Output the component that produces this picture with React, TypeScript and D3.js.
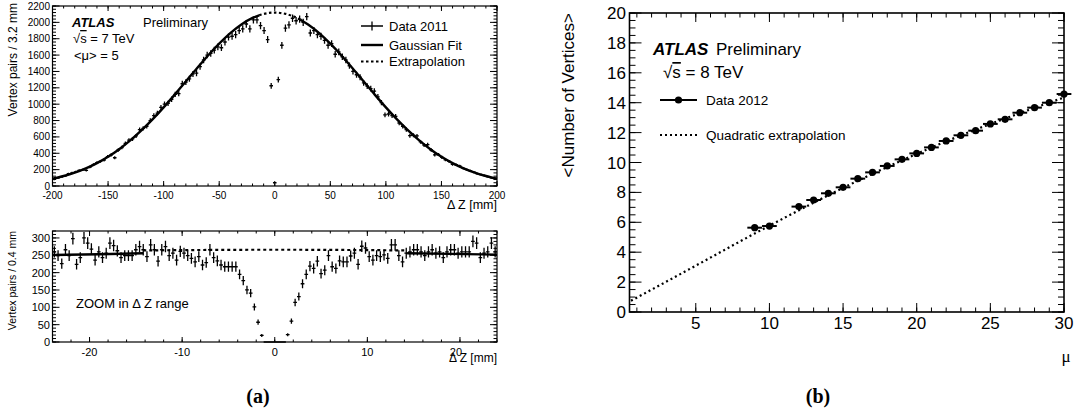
import React from 'react';
import * as d3 from 'd3';

// ---------- Panel (a), top: ΔZ of vertex pairs, 3.2 mm bins from -200 to 200 mm
const topBinLow = -200;
const topBinWidth = 3.2;
const topCounts = [
  80, 98, 110, 122, 150, 160, 172, 190, 196, 190,
  232, 262, 285, 300, 318, 360, 380, 345, 440, 470,
  520, 560, 575, 612, 690, 705, 730, 800, 860, 890,
  960, 1000, 1010, 1060, 1120, 1130, 1250, 1270, 1310, 1370,
  1380, 1460, 1540, 1600, 1620, 1660, 1700, 1690, 1760, 1820,
  1830, 1850, 1900, 1920, 1980, 1920, 2030, 2030, 1960, 1900,
  1790, 1225, 40, 1300, 1720, 1930, 1970, 2050, 2020, 2040,
  2000, 2070, 1870, 1900, 1850, 1830, 1780, 1720, 1740, 1610,
  1640, 1580, 1540, 1470, 1400, 1360, 1330, 1260, 1220, 1190,
  1160, 1090, 1020, 870, 880, 860, 850, 770, 730, 690,
  615, 620, 612, 540, 500, 505, 440, 380, 385, 350,
  320, 300, 265, 260, 245, 215, 200, 185, 168, 150,
  140, 128, 112, 100, 92,
];
const topFitX = [-200, -190, -180, -170, -160, -150, -140, -130, -120, -110, -100, -90, -80, -70, -60, -50, -40, -30, -20, -14, -10, 0, 10, 20, 23, 30, 40, 50, 60, 70, 80, 90, 100, 110, 120, 130, 140, 150, 160, 170, 180, 190, 200];
const topFitY = [89, 122, 163, 215, 280, 357, 450, 557, 679, 814, 961, 1117, 1278, 1439, 1595, 1739, 1868, 1974, 2054, 2087, 2103, 2120, 2103, 2054, 2033, 1974, 1868, 1739, 1595, 1439, 1278, 1117, 961, 814, 679, 557, 450, 357, 280, 215, 163, 122, 89];
const topFitLow = -14;
const topFitHigh = 23;
const topXTicks = [-200, -150, -100, -50, 0, 50, 100, 150, 200];
const topYTicks = [0, 200, 400, 600, 800, 1000, 1200, 1400, 1600, 1800, 2000, 2200];

// ---------- Panel (a), bottom: zoom, 0.4 mm bins from -24 to 24 mm
const zoomBinLow = -24;
const zoomBinWidth = 0.4;
const zoomCounts = [
  260, 249, 226, 266, 249, 298, 224, 243, 300, 285, 268, 236, 260, 243, 256, 285, 278, 263, 243, 249,
  249, 249, 266, 275, 266, 246, 280, 266, 233, 266, 275, 249, 256,
  236, 261, 256, 249, 241, 231, 246, 222, 229, 266, 243, 234, 222, 217, 217, 217, 217, 195, 177, 150, 141, 101, 57, 19,
  0, 0, 0, 0, 0, 0,
  21, 60, 114, 131, 168, 195, 219, 212, 233, 197, 207, 249, 217, 212, 234, 231, 231, 248, 256, 224, 276, 271, 246,
  236, 249, 246, 251, 241, 280, 280, 249, 231, 256, 260, 266, 266, 260, 249, 260, 266, 256, 260, 243,
  260, 266, 266, 256, 260, 260, 260, 290, 285, 243, 256, 260, 285, 260,
];
const zoomFitLeftX = [-24, -19, -14.2];
const zoomFitLeftY = [251, 253, 256];
const zoomFitRightX = [14.3, 19, 24];
const zoomFitRightY = [256, 254, 252];
const zoomExtrapX = [-14.2, 0, 14.3];
const zoomExtrapY = [264, 266, 264];
const zoomXTicks = [-20, -10, 0, 10, 20];
const zoomYTicks = [0, 50, 100, 150, 200, 250, 300];

// ---------- Panel (b): <Number of Vertices> vs mu
const muValues = [9, 10, 12, 13, 14, 15, 16, 17, 18, 19, 20, 21, 22, 23, 24, 25, 26, 27, 28, 29, 30];
const nVertices = [5.64, 5.75, 7.05, 7.49, 7.94, 8.34, 8.92, 9.34, 9.77, 10.21, 10.61, 11.01, 11.44, 11.82, 12.13, 12.58, 12.89, 13.33, 13.67, 14.0, 14.58];
const extrapMu = [0.6, 5, 9, 12, 15, 18, 21, 24, 27, 30];
const extrapNv = [0.75, 3.1, 5.25, 6.8, 8.3, 9.7, 11.0, 12.2, 13.3, 14.35];
const bXTicks = [5, 10, 15, 20, 25, 30];
const bYTicks = [0, 2, 4, 6, 8, 10, 12, 14, 16, 18, 20];

const SANS = '"Liberation Sans", Arial, Helvetica, sans-serif';
const SERIF = '"Liberation Serif", "DejaVu Serif", serif';

type FrameProps = {
  x: d3.ScaleLinear<number, number>;
  y: d3.ScaleLinear<number, number>;
  xMajor: number[];
  xMinor: number[];
  yMajor: number[];
  yMinor: number[];
  xMaj: number;
  xMin: number;
  yMaj: number;
  yMin: number;
  sw: number;
};

function Frame({ x, y, xMajor, xMinor, yMajor, yMinor, xMaj, xMin, yMaj, yMin, sw }: FrameProps) {
  const [x0, x1] = x.range();
  const [y0, y1] = y.range(); // y0 bottom, y1 top
  const segs: string[] = [];
  xMinor.forEach((v) => {
    const px = x(v);
    segs.push(`M${px},${y0}V${y0 - xMin}M${px},${y1}V${y1 + xMin}`);
  });
  xMajor.forEach((v) => {
    const px = x(v);
    segs.push(`M${px},${y0}V${y0 - xMaj}M${px},${y1}V${y1 + xMaj}`);
  });
  yMinor.forEach((v) => {
    const py = y(v);
    segs.push(`M${x0},${py}H${x0 + yMin}M${x1},${py}H${x1 - yMin}`);
  });
  yMajor.forEach((v) => {
    const py = y(v);
    segs.push(`M${x0},${py}H${x0 + yMaj}M${x1},${py}H${x1 - yMaj}`);
  });
  return (
    <g>
      <path d={segs.join('')} stroke="#000" strokeWidth={1} fill="none" />
      <rect x={x0} y={y1} width={x1 - x0} height={y0 - y1} fill="none" stroke="#000" strokeWidth={sw} />
    </g>
  );
}

function SqrtS({ x, y, size, rest }: { x: number; y: number; size: number; rest: string }) {
  return (
    <text x={x} y={y} fontFamily={SANS} fontSize={size}>
      <tspan>√</tspan>
      <tspan style={{ textDecoration: 'overline' }}>s</tspan>
      <tspan>{rest}</tspan>
    </text>
  );
}

export default function App() {
  // ---- scales
  const xA = d3.scaleLinear().domain([-200, 200]).range([52.5, 497]);
  const yA = d3.scaleLinear().domain([0, 2200]).range([186, 6]);
  const xZ = d3.scaleLinear().domain([-24, 24]).range([52.5, 497]);
  const yZ = d3.scaleLinear().domain([0, 320]).range([342, 231]);
  const xB = d3.scaleLinear().domain([0.5, 30]).range([629.5, 1064]);
  const yB = d3.scaleLinear().domain([0, 20]).range([312, 13]);

  const topFit = topFitX.map((v, i) => [v, topFitY[i]] as [number, number]);
  const lineA = d3
    .line<[number, number]>()
    .x((d) => xA(d[0]))
    .y((d) => yA(d[1]))
    .curve(d3.curveMonotoneX);
  const lineZ = d3
    .line<[number, number]>()
    .x((d) => xZ(d[0]))
    .y((d) => yZ(d[1]))
    .curve(d3.curveMonotoneX);
  const lineB = d3
    .line<[number, number]>()
    .x((d) => xB(d[0]))
    .y((d) => yB(d[1]))
    .curve(d3.curveMonotoneX);

  const topMarks = topCounts.map((v, i) => {
    const c = topBinLow + topBinWidth * (i + 0.5);
    const e = Math.sqrt(v);
    return `M${xA(c - topBinWidth / 2)},${yA(v)}H${xA(c + topBinWidth / 2)}M${xA(c)},${yA(v - e)}V${yA(v + e)}`;
  });
  const zoomMarks = zoomCounts.map((v, i) => {
    const c = zoomBinLow + zoomBinWidth * (i + 0.5);
    const e = Math.sqrt(v);
    return `M${xZ(c - zoomBinWidth / 2)},${yZ(v)}H${xZ(c + zoomBinWidth / 2)}M${xZ(c)},${yZ(v - e)}V${yZ(v + e)}`;
  });

  const zl = zoomFitLeftX.map((v, i) => [v, zoomFitLeftY[i]] as [number, number]);
  const zr = zoomFitRightX.map((v, i) => [v, zoomFitRightY[i]] as [number, number]);
  const ze = zoomExtrapX.map((v, i) => [v, zoomExtrapY[i]] as [number, number]);
  const be = extrapMu.map((v, i) => [v, extrapNv[i]] as [number, number]);

  return (
    <svg
      width={1078}
      height={414}
      viewBox="0 0 1078 414"
      style={{ position: 'absolute', left: 0, top: 0, background: '#fff' }}
    >
      <rect x={0} y={0} width={1078} height={414} fill="#fff" />

      {/* ================= Panel (a) top ================= */}
      <path d={lineA(topFit.filter((d) => d[0] >= topFitLow && d[0] <= topFitHigh)) || ''} fill="none" stroke="#000" strokeWidth={2.2} strokeDasharray="2.5,2.5" />
      <path d={lineA(topFit.filter((d) => d[0] <= topFitLow)) || ''} fill="none" stroke="#000" strokeWidth={2.4} />
      <path d={lineA(topFit.filter((d) => d[0] >= topFitHigh)) || ''} fill="none" stroke="#000" strokeWidth={2.4} />
      <path d={topMarks.join('')} stroke="#000" strokeWidth={1.3} fill="none" />
      <Frame
        x={xA}
        y={yA}
        xMajor={topXTicks}
        xMinor={d3.range(-200, 200.01, 10)}
        yMajor={topYTicks}
        yMinor={d3.range(0, 2200.01, 40)}
        xMaj={5}
        xMin={2.5}
        yMaj={7}
        yMin={3.5}
        sw={1.2}
      />
      {topXTicks.map((t) => (
        <text key={t} x={xA(t)} y={199} fontFamily={SANS} fontSize={10} textAnchor="middle">
          {t}
        </text>
      ))}
      {topYTicks.map((t) => (
        <text key={t} x={50} y={yA(t) + 3.5} fontFamily={SANS} fontSize={10} textAnchor="end">
          {t}
        </text>
      ))}
      <text x={497} y={208.5} fontFamily={SANS} fontSize={12.5} textAnchor="end">
        Δ Z [mm]
      </text>
      <text transform="translate(17,3) rotate(-90)" fontFamily={SANS} fontSize={12} textAnchor="end">
        Vertex pairs / 3.2 mm
      </text>
      <text x={72} y={27} fontFamily={SANS} fontSize={13} fontWeight="bold" fontStyle="italic">
        ATLAS
      </text>
      <text x={143} y={27} fontFamily={SANS} fontSize={13}>
        Preliminary
      </text>
      <SqrtS x={73} y={43} size={13} rest=" = 7 TeV" />
      <text x={74} y={60} fontFamily={SANS} fontSize={13}>
        {'<μ> = 5'}
      </text>
      {/* legend */}
      <path d="M361,26H383M372,21.5V30.5" stroke="#000" strokeWidth={1.3} />
      <path d="M361,45H383" stroke="#000" strokeWidth={2.4} />
      <path d="M361,61.5H383" stroke="#000" strokeWidth={2.2} strokeDasharray="2.5,2.5" />
      <text x={389} y={30.5} fontFamily={SANS} fontSize={13}>
        Data 2011
      </text>
      <text x={389} y={49.5} fontFamily={SANS} fontSize={13}>
        Gaussian Fit
      </text>
      <text x={389} y={66} fontFamily={SANS} fontSize={13}>
        Extrapolation
      </text>

      {/* ================= Panel (a) bottom ================= */}
      <path d={lineZ(ze) || ''} fill="none" stroke="#000" strokeWidth={2.2} strokeDasharray="3,3" />
      <path d={lineZ(zl) || ''} fill="none" stroke="#000" strokeWidth={2.4} />
      <path d={lineZ(zr) || ''} fill="none" stroke="#000" strokeWidth={2.4} />
      <path d={zoomMarks.join('')} stroke="#000" strokeWidth={1.3} fill="none" />
      <Frame
        x={xZ}
        y={yZ}
        xMajor={zoomXTicks}
        xMinor={d3.range(-24, 24.01, 2)}
        yMajor={zoomYTicks}
        yMinor={d3.range(0, 320.01, 10)}
        xMaj={5}
        xMin={2.5}
        yMaj={7}
        yMin={3.5}
        sw={1.2}
      />
      {zoomXTicks.map((t) => (
        <text key={t} x={t === 20 ? xZ(t) - 4 : xZ(t)} y={356} fontFamily={SANS} fontSize={11} textAnchor="middle">
          {t}
        </text>
      ))}
      {zoomYTicks.map((t) => (
        <text key={t} x={50} y={yZ(t) + 4} fontFamily={SANS} fontSize={11} textAnchor="end">
          {t}
        </text>
      ))}
      <text x={497} y={362} fontFamily={SANS} fontSize={12} textAnchor="end">
        Δ Z [mm]
      </text>
      <text transform="translate(16,231) rotate(-90)" fontFamily={SANS} fontSize={10.5} textAnchor="end">
        Vertex pairs / 0.4 mm
      </text>
      <text x={76} y={308} fontFamily={SANS} fontSize={13}>
        ZOOM in Δ Z range
      </text>

      <text x={258} y={403} fontFamily={SERIF} fontSize={20} fontWeight="bold" textAnchor="middle">
        (a)
      </text>

      {/* ================= Panel (b) ================= */}
      <path d={lineB(be) || ''} fill="none" stroke="#000" strokeWidth={2.2} strokeDasharray="2,3" />
      {muValues.map((m, i) => (
        <g key={m}>
          <path d={`M${xB(m - 0.5)},${yB(nVertices[i])}H${xB(m + 0.5)}`} stroke="#000" strokeWidth={2} />
          <circle cx={xB(m)} cy={yB(nVertices[i])} r={3.6} fill="#000" />
        </g>
      ))}
      <Frame
        x={xB}
        y={yB}
        xMajor={bXTicks}
        xMinor={d3.range(1, 30.01, 1)}
        yMajor={bYTicks}
        yMinor={d3.range(0, 20.01, 0.5)}
        xMaj={9}
        xMin={4.5}
        yMaj={12}
        yMin={6}
        sw={1.6}
      />
      {bXTicks.map((t) => (
        <text key={t} x={xB(t)} y={329} fontFamily={SANS} fontSize={17} textAnchor="middle">
          {t}
        </text>
      ))}
      {bYTicks.map((t) => (
        <text key={t} x={626} y={yB(t) + 6} fontFamily={SANS} fontSize={17} textAnchor="end">
          {t}
        </text>
      ))}
      <text transform="translate(574,13) rotate(-90)" fontFamily={SANS} fontSize={17} textAnchor="end">
        {'<Number of Vertices>'}
      </text>
      <text x={1066} y={362} fontFamily={SERIF} fontSize={17} textAnchor="middle">
        μ
      </text>
      <text x={653} y={55} fontFamily={SANS} fontSize={17} fontWeight="bold" fontStyle="italic">
        ATLAS
      </text>
      <text x={716} y={55} fontFamily={SANS} fontSize={17}>
        Preliminary
      </text>
      <SqrtS x={663} y={78} size={17} rest=" = 8 TeV" />
      <path d="M660,100H697" stroke="#000" strokeWidth={2} />
      <circle cx={678.5} cy={100} r={3.6} fill="#000" />
      <text x={706} y={104.5} fontFamily={SANS} fontSize={13.5}>
        Data 2012
      </text>
      <path d="M660,135H697" stroke="#000" strokeWidth={2.2} strokeDasharray="2,3" />
      <text x={706} y={139.5} fontFamily={SANS} fontSize={13.5}>
        Quadratic extrapolation
      </text>
      <text x={818} y={403} fontFamily={SERIF} fontSize={20} fontWeight="bold" textAnchor="middle">
        (b)
      </text>
    </svg>
  );
}
